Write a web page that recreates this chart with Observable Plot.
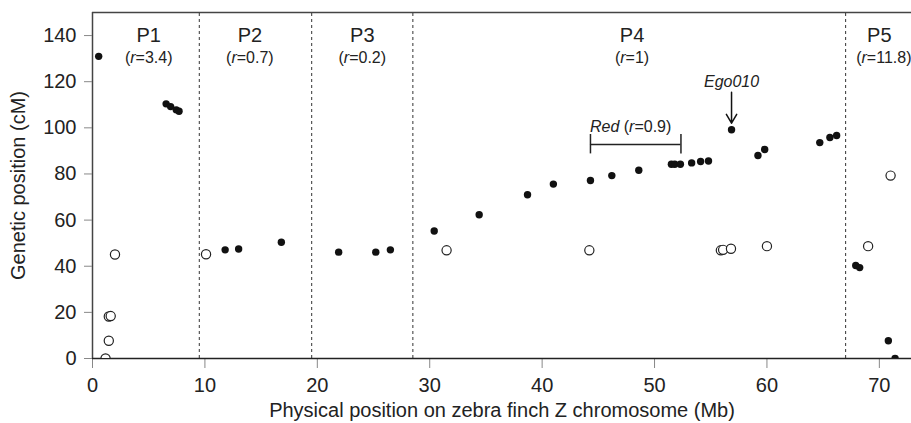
<!DOCTYPE html>
<html>
<head>
<meta charset="utf-8">
<script src="https://cdn.jsdelivr.net/npm/d3@7"></script>
<script src="https://cdn.jsdelivr.net/npm/@observablehq/plot@0.6"></script>
<style>
  html, body { margin: 0; padding: 0; background: #fff; }
  #chart { width: 911px; height: 423px; }
</style>
</head>
<body>
<div id="chart"></div>
<script>
// ---- Data ----
const filledX = [0.55, 6.55, 6.95, 7.45, 7.7,
  11.8, 13.0, 16.8,
  21.9, 25.2, 26.5,
  30.4, 34.4, 38.7, 41.0, 44.3, 46.2, 48.6, 51.5, 51.8, 52.3, 53.3, 54.1, 54.8, 56.85, 59.2, 59.8, 64.7, 65.6, 66.2,
  67.9, 68.25, 70.8, 71.4];
const filledY = [131, 110.4, 109.2, 107.8, 107.2,
  47.1, 47.5, 50.4,
  46.1, 46.1, 47.1,
  55.3, 62.3, 71.0, 75.6, 77.2, 79.3, 81.6, 84.2, 84.2, 84.2, 84.8, 85.4, 85.6, 99.2, 88.0, 90.6, 93.6, 95.8, 96.7,
  40.3, 39.4, 7.7, 0];
const hollowX = [1.16, 1.45, 1.45, 1.62, 2.0, 10.1, 31.5, 44.2, 55.9, 56.1, 56.8, 60.0, 69.0, 71.0];
const hollowY = [0, 7.7, 18.2, 18.4, 45.1, 45.2, 46.9, 46.9, 46.9, 47.1, 47.6, 48.7, 48.7, 79.3];

const boundaries = [9.5, 19.5, 28.5, 67];
const partNames = ["P1", "P2", "P3", "P4", "P5"];
const partX = [5, 14, 24, 48, 70];
const rLabels = ["(r=3.4)", "(r=0.7)", "(r=0.2)", "(r=1)", "(r=11.8)"];
const rX = [5, 14, 24, 48, 70.4];

const xTicks = [0, 10, 20, 30, 40, 50, 60, 70];
const yTicks = [0, 20, 40, 60, 80, 100, 120, 140];

const redStart = 44.3, redEnd = 52.35, redY = 92.8;
const egoX = 56.85;

const filled = filledX.map((x, i) => ({x, y: filledY[i]}));
const hollow = hollowX.map((x, i) => ({x, y: hollowY[i]}));
const parts = partNames.map((name, i) => ({name, x: partX[i]}));
const rs = rLabels.map((label, i) => ({label, x: rX[i]}));

const FONT = "'Liberation Sans', Arial, Helvetica, sans-serif";
const INK = "#222";

const chart = Plot.plot({
  width: 911,
  height: 423,
  marginLeft: 92,
  marginRight: 0,
  marginTop: 12,
  marginBottom: 65,
  style: {fontFamily: FONT, fontSize: "19px", color: INK, background: "#fff"},
  x: {domain: [0, 72.86]},
  y: {domain: [0, 150]},
  marks: [
    // frame: top and left
    Plot.ruleY([150], {stroke: "#444", strokeWidth: 1.5}),
    Plot.ruleX([0], {stroke: "#444", strokeWidth: 1.5}),
    // partition boundaries
    Plot.ruleX(boundaries, {y1: 0, y2: 150, stroke: "#333", strokeWidth: 1, strokeDasharray: "3,3"}),
    // axes
    Plot.axisX({ticks: xTicks, tickSize: 10, tickPadding: 9, stroke: "#888", fill: INK, fontSize: 20,
      label: "Physical position on zebra finch Z chromosome (Mb)", labelAnchor: "center", labelOffset: 58, labelArrow: "none"}),
    Plot.axisY({ticks: yTicks, tickSize: 8, tickPadding: 8, stroke: "#888", fill: INK, fontSize: 20,
      label: "Genetic position (cM)", labelAnchor: "center", labelOffset: 82, labelArrow: "none"}),
    Plot.ruleY([0], {stroke: "#222", strokeWidth: 1.5}),
    // points
    Plot.dot(hollow, {x: "x", y: "y", r: 4.6, stroke: "#222", strokeWidth: 1.2, fill: "white", clip: true}),
    Plot.dot(filled, {x: "x", y: "y", r: 3.7, fill: "#111", stroke: "none", clip: true}),
    // partition labels
    Plot.text(parts, {x: "x", y: 140, text: "name", fontSize: 20, fill: INK, lineAnchor: "middle"}),
    Plot.text(rs, {x: "x", y: 130.3, text: "label", fontSize: 16, fill: INK, lineAnchor: "middle", className: "rlabel"}),
    // Red bracket
    Plot.ruleY([redY], {x1: redStart, x2: redEnd, stroke: "#222", strokeWidth: 1.5}),
    Plot.ruleX([redStart, redEnd], {y1: 88.7, y2: 97.1, stroke: "#222", strokeWidth: 1.5}),
    Plot.text(["Red (r=0.9)"], {x: (redStart + redEnd) / 2 - 0.45, y: 100.3, fontSize: 16, fill: INK, lineAnchor: "middle", className: "rlabel"}),
    // Ego010 arrow
    Plot.arrow([{x: egoX}], {x1: "x", x2: "x", y1: 115.4, y2: 102, stroke: "#111", strokeWidth: 1.5, headLength: 12, bend: 0}),
    Plot.text(["Ego010"], {x: egoX, y: 120, fontSize: 16, fontStyle: "italic", fill: INK, lineAnchor: "middle"})
  ]
});

// italicise the variable r (and gene name Red) inside labels, keeping real text
const SVGNS = "http://www.w3.org/2000/svg";
chart.querySelectorAll('.rlabel text').forEach(t => {
  const s = t.textContent;
  const parts = s.split(/(Red|r(?==))/);
  while (t.firstChild) t.removeChild(t.firstChild);
  parts.forEach(p => {
    if (!p) return;
    const span = document.createElementNS(SVGNS, "tspan");
    span.textContent = p;
    if (p === "Red" || p === "r") span.setAttribute("font-style", "italic");
    t.appendChild(span);
  });
});

document.getElementById("chart").appendChild(chart);
</script>
</body>
</html>
